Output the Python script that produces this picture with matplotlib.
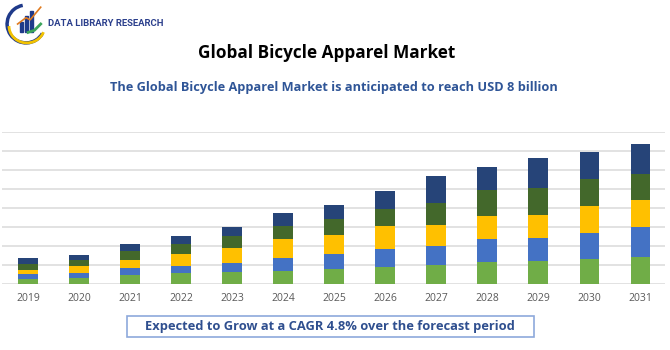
import matplotlib
matplotlib.use("Agg")
import matplotlib.pyplot as plt
import numpy as np
from matplotlib.patches import Rectangle, Arc

plt.rcParams['font.family'] = ['Open Sans', 'DejaVu Sans']

years = ['2019', '2020', '2021', '2022', '2023', '2024', '2025',
         '2026', '2027', '2028', '2029', '2030', '2031']

# segment heights, bottom to top (gridline = 1 unit)
seg_green = [0.26, 0.32, 0.51, 0.58, 0.66, 0.70, 0.81, 0.89, 1.02, 1.19, 1.21, 1.32, 1.42]
seg_blue = [0.28, 0.26, 0.36, 0.40, 0.44, 0.70, 0.77, 0.97, 0.98, 1.19, 1.23, 1.38, 1.60]
seg_yellow = [0.21, 0.40, 0.41, 0.60, 0.81, 0.97, 1.01, 1.19, 1.12, 1.20, 1.22, 1.41, 1.42]
seg_dkgreen = [0.32, 0.28, 0.47, 0.56, 0.65, 0.71, 0.83, 0.91, 1.17, 1.40, 1.39, 1.42, 1.38]
seg_navy = [0.30, 0.28, 0.35, 0.42, 0.44, 0.67, 0.77, 0.95, 1.43, 1.18, 1.58, 1.42, 1.58]

series = [seg_green, seg_blue, seg_yellow, seg_dkgreen, seg_navy]
colors = ['#70AD47', '#4472C4', '#FFC000', '#43682B', '#264478']

title = 'Global Bicycle Apparel Market'
subtitle = 'The Global Bicycle Apparel Market is anticipated to reach USD 8 billion'
footer = 'Expected to Grow at a CAGR 4.8% over the forecast period'

fig = plt.figure(figsize=(6.7, 3.5), dpi=100)
ax = fig.add_axes([0.0025, 0.188, 0.99, 0.434])

x = np.arange(len(years))
bottom = np.zeros(len(years))
for vals, col in zip(series, colors):
    ax.bar(x, vals, width=0.39, bottom=bottom, color=col, zorder=3)
    bottom += np.array(vals)

ax.set_xlim(-0.52, 12.48)
ax.set_ylim(0, 8)
ax.set_yticks(np.arange(0, 9, 1))
ax.yaxis.grid(True, color='#DDDDDD', linewidth=1.2, zorder=0)
ax.tick_params(axis='y', left=False, labelleft=False)
ax.tick_params(axis='x', length=0, labelsize=7.5, labelcolor='#595959', pad=6)
ax.set_xticks(x)
ax.set_xticklabels(years)
for s in ax.spines.values():
    s.set_visible(False)

fig.text(0.488, 1 - 53 / 350, title, ha='center', va='center', fontsize=12.3,
         fontweight='bold', color='black')
fig.text(0.498, 1 - 88 / 350, subtitle, ha='center', va='center', fontsize=9.2,
         fontweight='bold', color='#2F5597')

# footer box
fig.patches.append(Rectangle((127 / 670, 1 - 337 / 350), 407 / 670, 21 / 350,
                             transform=fig.transFigure, fill=False,
                             edgecolor='#8EA9DB', linewidth=1.2))
fig.text(330 / 670, 1 - 326.5 / 350, footer, ha='center', va='center', fontsize=9.3,
         fontweight='bold', color='#2F4F8F')

# logo
lax = fig.add_axes([5 / 670, 1 - 45 / 350, 42 / 670, 42 / 350])
lax.set_xlim(0, 1)
lax.set_ylim(0, 1)
lax.axis('off')
lax.add_patch(Arc((0.5, 0.5), 0.9, 0.9, theta1=100, theta2=330, color='#1F3A8A', linewidth=2.5))
lax.add_patch(Arc((0.52, 0.45), 0.85, 0.8, theta1=180, theta2=340, color='#F2C200', linewidth=2))
for i, h in enumerate([0.25, 0.38, 0.5]):
    lax.add_patch(Rectangle((0.35 + i * 0.12, 0.3), 0.08, h, color='#1F3A8A'))
lax.plot([0.3, 0.5, 0.6, 0.85], [0.5, 0.65, 0.6, 0.9], color='#E07B20', linewidth=1.2)
lax.plot([0.55, 0.7, 0.85], [0.3, 0.35, 0.5], color='#3BA55C', linewidth=2)
fig.text(48 / 670, 1 - 24 / 350, 'DATA LIBRARY RESEARCH', ha='left', va='center',
         fontsize=6.8, fontweight='bold', color='#2B3F8C', family=['Roboto', 'DejaVu Sans'])

fig.savefig('out.png', dpi=100)
